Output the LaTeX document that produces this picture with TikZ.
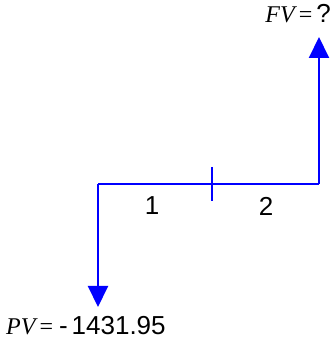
\documentclass[tikz,border=0pt]{standalone}
\usepackage{fontspec}
\setmainfont{Liberation Serif}
\newfontfamily\arialfont{Liberation Sans}
\usetikzlibrary{arrows.meta}
\begin{document}
\begin{tikzpicture}[x=1pt,y=1pt,
  flow/.style={draw={rgb,255:red,0;green,0;blue,255},line width=2pt},
  flowarrow/.style={flow,-{Triangle[length=21pt,width=20pt]}},
  lbl/.style={inner sep=0pt,font=\fontsize{26}{30}\selectfont\arialfont},
  eqlbl/.style={inner sep=0pt,font=\fontsize{24}{28}\selectfont}]
\useasboundingbox (0,0) rectangle (333,338);
\coordinate (L) at (98,154);
\coordinate (R) at (319,154);
\coordinate (M) at (212,154);
\coordinate (Mt) at (212,171);
\coordinate (Mb) at (212,137);
\coordinate (PVtip) at (98,31);
\coordinate (FVtip) at (319,301);
\draw[flow] (L) -- (R);
\draw[flow] (Mt) -- (Mb);
\draw[flowarrow] (L) -- (PVtip);
\draw[flowarrow] (R) -- (FVtip);
\node[lbl] (one) at (152,132) {1};
\node[lbl] (two) at (266,132) {2};
\node[eqlbl,anchor=base west] (pv) at (6,4) {\itshape PV\upshape\hspace{4pt}=\hspace{6pt}{\fontsize{26}{30}\selectfont\arialfont -\hspace{4pt}1431.95}};
\node[eqlbl,anchor=base east] (fv) at (331,315) {\itshape FV\upshape\hspace{4pt}=\hspace{4pt}{\fontsize{26}{30}\selectfont\arialfont ?}};
\end{tikzpicture}
\end{document}
